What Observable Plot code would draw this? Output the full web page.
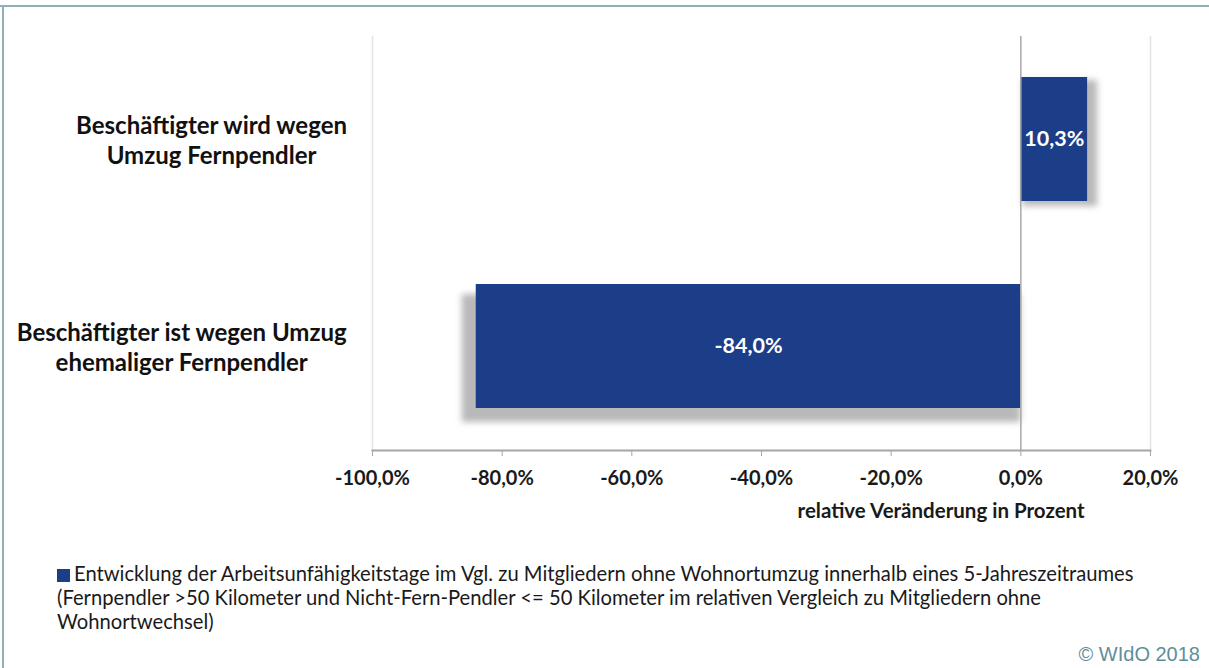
<!DOCTYPE html>
<html>
<head>
<meta charset="utf-8">
<script src="https://cdn.jsdelivr.net/npm/d3@7"></script>
<script src="https://cdn.jsdelivr.net/npm/@observablehq/plot@0.6"></script>
<style>
  html, body { margin: 0; padding: 0; background: #fff; }
  #wrap { position: relative; width: 1209px; height: 668px; overflow: hidden; font-family: Lato, "Open Sans", sans-serif; }
  #topline { position: absolute; left: 0; top: 5px; width: 1209px; height: 2px; background: #8fb0b8; }
  #leftline { position: absolute; left: 2px; top: 5px; width: 2px; height: 663px; background: #8fb0b8; }
  #chart { position: absolute; left: 0; top: 0; }
  #legend { position: absolute; left: 57px; top: 561px; font-size: 20.2px; line-height: 24px; color: #1a1a1a; white-space: nowrap; }
  #legend .sw { display: inline-block; width: 13px; height: 13px; margin-right: 4px; vertical-align: -1px; }
  #copy { position: absolute; right: 9px; top: 643px; font-family: "Liberation Sans", Arial, sans-serif; font-size: 20px; color: #5f8e99; }
</style>
</head>
<body>
<div id="wrap">
  <div id="topline"></div>
  <div id="leftline"></div>
  <div id="chart"></div>
  <div id="legend"></div>
  <div id="copy">© WIdO 2018</div>
</div>
<script>
const categories = [
  "Beschäftigter wird wegen\nUmzug Fernpendler",
  "Beschäftigter ist wegen Umzug\nehemaliger Fernpendler"
];
const values = [10.3, -84.0];
const xTicks = [-100, -80, -60, -40, -20, 0, 20];
const seriesName = "Entwicklung der Arbeitsunfähigkeitstage im Vgl. zu Mitgliedern ohne Wohnortumzug innerhalb eines 5-Jahreszeitraumes";
const seriesNote = ["(Fernpendler >50 Kilometer und Nicht-Fern-Pendler <= 50 Kilometer im relativen Vergleich zu Mitgliedern ohne", "Wohnortwechsel)"];
const xLabel = "relative Veränderung in Prozent";
const barColor = "#1c3d87";

const data = categories.map((c, i) => ({cat: c, value: values[i]}));
const fmt = v => v.toFixed(1).replace(".", ",") + "%";

const plot = Plot.plot({
  width: 1209,
  height: 530,
  marginLeft: 372,
  marginRight: 59,
  marginTop: 36,
  marginBottom: 80,
  style: {fontFamily: "Lato, 'Open Sans', sans-serif", color: "#1a1a1a", background: "transparent"},
  x: {domain: [-100, 20]},
  y: {domain: categories, paddingInner: 0.4, paddingOuter: 0.2},
  marks: [
    Plot.ruleX([-100, 20], {stroke: "#e2e2e2", strokeWidth: 1.5}),
    Plot.barX(data.filter(d => d.value < 0), {x: "value", y: "cat", fill: "#b9b9b9", dy: 10, insetLeft: -14, insetBottom: -4}),
    Plot.barX(data.filter(d => d.value >= 0), {x: "value", y: "cat", fill: "#b9b9b9", dx: 2, dy: 3, insetRight: -8, insetBottom: -2}),
    Plot.barX(data, {x: "value", y: "cat", fill: barColor}),
    Plot.ruleX([0], {stroke: "#a8a8a8", strokeWidth: 1.5}),
    Plot.frame({anchor: "bottom", stroke: "#a6a6a6", strokeWidth: 2}),
    Plot.axisX({ticks: xTicks, tickFormat: fmt, tickSize: 6, tickPadding: 14, stroke: "#a6a6a6", fontSize: 20, fontWeight: "bold", fill: "#1a1a1a", label: null}),
    Plot.axisY({tickSize: 0, tickPadding: 25, textAnchor: "middle", fontSize: 24, fontWeight: "bold", lineHeight: 1.25, fill: "#111", label: null}),
    Plot.text([xLabel], {frameAnchor: "bottom", x: -12.3, dy: 67, text: d => d, fontSize: 20.5, fontWeight: "bold", fill: "#1a1a1a"}),
    Plot.text(data, {x: d => d.value / 2, y: "cat", text: d => fmt(d.value), fill: "white", fontSize: 21.5, fontWeight: "bold"})
  ]
});
document.getElementById("chart").appendChild(plot);

// blur the shadows
const bars = plot.querySelectorAll('g[aria-label="bar"]');
[bars[0], bars[1]].forEach(g => g && (g.style.filter = "blur(3px)"));

// right-align the y label blocks (lines centered within the block)
const yAxisG = plot.querySelector('g[aria-label="y-axis tick label"]');
if (yAxisG) {
  yAxisG.querySelectorAll("text").forEach(t => {
    const r = t.getBoundingClientRect();
    const shift = 347 - r.right;
    const tr = t.getAttribute("transform") || "";
    t.setAttribute("transform", (tr + ` translate(${shift},0)`).trim());
  });
}

// legend
const lg = document.getElementById("legend");
lg.innerHTML = `<span class="sw" style="background:${barColor}"></span>${seriesName}<br>${seriesNote.join("<br>")}`;
</script>
</body>
</html>
